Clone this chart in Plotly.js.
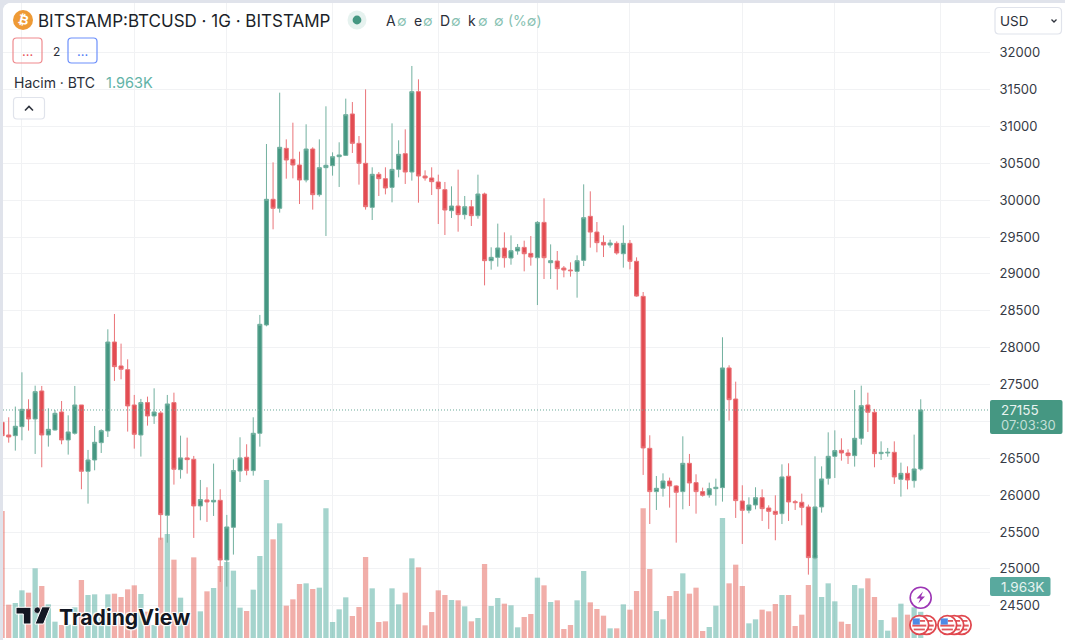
<!DOCTYPE html>
<html>
<head>
<meta charset="utf-8">
<script src="https://cdn.plot.ly/plotly-3.0.1.min.js"></script>
<style>
  html, body { margin: 0; padding: 0; background: #e0e3eb; overflow: hidden; }
  #chart { position: absolute; left: 3px; top: 3px; width: 1062px; height: 637px; background: #fff; border-top-left-radius: 8px; overflow: hidden; }
</style>
</head>
<body>
<div id="chart"></div>
<script>
// daily candles, oldest first
var opens = [26988,26816,26807,26929,27164,27033,27413,26816,26884,27128,26749,26839,27223,26324,26477,26712,26871,28077,27752,27702,
  27223,26816,27255,27074,27115,25727,27255,26346,26505,26486,25854,25935,25908,25930,25121,25564,26328,26514,26333,26839,
  28308,30012,29890,30703,30554,30477,30274,30694,30075,30441,30468,30590,30608,31169,30771,30500,29903,30351,30292,30174,
  30418,30631,30382,31472,30328,30301,30247,30143,29858,29921,29804,29912,29790,30084,29180,29225,29351,29216,29311,29360,
  29279,29220,29699,29152,29175,29080,29053,29035,29184,29781,29568,29428,29392,29415,29274,29415,29171,28696,26635,26048,
  26093,26192,26125,26048,26432,26170,26048,26003,26088,26102,27725,27304,25921,25795,25867,25966,25826,25781,25749,26256,
  25912,25903,25840,25148,25840,26229,26527,26608,26572,26536,26771,27223,27124,26563,26572,26581,26215,26296,26197,26355];
var highs = [27020,27056,27201,27666,27300,27485,27481,27178,27155,27277,27083,27481,27223,26613,26938,26893,28249,28457,28055,27842,
  27359,27305,27336,27449,27142,27359,27390,26807,26780,26532,26206,26107,26428,26080,25732,26486,26785,26690,27056,28444,
  30762,30513,31458,30825,31051,30658,31029,30717,30825,31273,30649,30785,31377,31331,30870,31503,30446,30382,30446,31042,
  30812,30961,31820,31639,30405,30446,30346,30247,30188,30414,30057,30003,30346,30102,29361,29682,29564,29523,29406,29451,
  29514,29717,30025,29401,29311,29107,29157,29252,30215,30120,29704,29523,29464,29442,29659,29460,29225,28755,26812,26260,
  26296,26238,26134,26798,26559,26283,26102,26170,26224,28141,27761,27539,26134,25971,26107,26079,25862,25998,26418,26432,
  25935,26021,25872,26527,26391,26852,26879,26771,26622,27426,27485,27390,27169,26730,26640,26730,26441,26391,26821,27300];
var lows = [26794,26712,26604,26744,26875,26559,26378,26658,26875,26690,26550,26821,26080,25885,26337,26572,26789,27549,27571,26862,
  26631,26523,26943,26966,25393,25356,26143,26224,26292,25420,25659,25637,25718,24823,24760,25194,26179,26269,26265,26658,
  28290,29605,29831,30292,30296,29948,30242,29872,30048,29514,30333,30179,30599,30640,30211,29872,29731,30057,30079,29971,
  30310,30220,30265,29966,30265,30070,29677,29528,29759,29573,29740,29650,29749,28845,29058,29099,29085,29125,29261,29035,
  29112,28578,28931,28931,28786,28954,28963,28678,29107,29356,29293,29229,29356,29261,29085,29062,28691,26274,25609,25799,
  25980,25831,25356,25808,25853,25749,25980,25966,25858,25912,27011,25691,25338,25754,25808,25650,25542,25388,25609,25650,
  25799,25591,24922,25130,25763,26143,26233,26468,26423,26387,26685,26857,26378,26477,26522,26152,25980,26079,26102,26333];
var closes = [26807,26789,26934,27164,27033,27404,26816,26893,27110,26749,26857,27223,26324,26477,26717,26875,28077,27743,27707,27210,
  26825,27255,27074,27128,25736,27237,26351,26505,26482,25854,25940,25908,25930,25121,25569,26333,26505,26337,26839,28317,
  30012,29890,30717,30545,30477,30274,30694,30075,30441,30473,30590,30613,31160,30771,30500,29912,30351,30292,30165,30418,
  30622,30382,31472,30328,30301,30251,30156,29867,29921,29804,29912,29790,30084,29180,29225,29352,29220,29315,29360,29274,
  29229,29699,29220,29180,29071,29053,29044,29180,29763,29568,29424,29392,29419,29284,29415,29171,28700,26640,26048,26093,
  26192,26125,26039,26432,26165,26048,25998,26088,26107,27725,27295,25926,25795,25867,25966,25817,25781,25740,26247,25908,
  25899,25835,25153,25840,26220,26527,26604,26572,26536,26771,27214,27124,26563,26581,26581,26247,26296,26206,26355,27155];
var volumes = [9525,2500,2625,3575,3400,5225,3900,2525,1225,975,1000,2300,4350,3225,3275,1850,3275,3325,3075,3650,
  3950,3300,1975,975,7525,7800,5875,3025,1500,6050,2000,3500,3750,5400,5700,5050,2275,2025,3625,6150,
  11850,7400,8600,2425,2900,4050,4100,3675,3775,9725,1200,2150,3050,1650,2325,6075,3725,1200,1250,3725,
  2525,3400,5975,5300,950,1950,3575,3225,2850,2825,2375,1250,1500,5550,2400,3000,2575,2450,800,1575,
  1800,4525,3950,2700,2825,675,975,2825,5025,2675,2175,1675,725,725,2525,2125,3525,9725,5175,2025,
  1400,3150,3525,4850,3325,3775,525,825,2425,9000,4100,5500,3900,1100,1400,2125,2000,2550,3225,3225,
  900,1750,3975,6225,3075,4100,2750,1225,1050,3975,3725,4475,3075,1350,550,1550,2575,1750,2300,1963];
var priceTicks = [24500,25000,25500,26000,26500,27000,27500,28000,28500,29000,29500,30000,30500,31000,31500,32000];
var priceTickText = ['24500','25000','25500','26000','26500','','27500','28000','28500','29000','29500','30000','30500','31000','31500','32000'];
var dateGrid = [3,20,34,50,66,81,95,112,126,142];
var lastPrice = 27155;

var UP = '#459782', DOWN = '#e24c52';
var UP_WICK = '#72b09f', DOWN_WICK = '#ea7479';
var W = 1062, H = 637;

var days = opens.map(function(o, i) { return i; });
var volColors = opens.map(function(o, i) {
  return closes[i] >= o ? 'rgba(76,170,155,0.5)' : 'rgba(225,85,75,0.48)';
});

// page pixels -> paper fractions
function px(x) { return (x - 3) / W; }
function py(y) { return 1 - (y - 3) / H; }

function circle(cx, cy, r, fill, line, lw) {
  return {type: 'circle', xref: 'paper', yref: 'paper', x0: px(cx - r), x1: px(cx + r), y0: py(cy + r), y1: py(cy - r),
    fillcolor: fill, line: {color: line || fill, width: lw === undefined ? 0 : lw}};
}

function rect(x0, y0, x1, y1, fill) {
  return {type: 'rect', xref: 'paper', yref: 'paper', x0: px(x0), x1: px(x1), y0: py(y1), y1: py(y0),
    fillcolor: fill, line: {width: 0}};
}

function poly(points, fill, line, lw) {
  var d = points.map(function(p, i) { return (i ? 'L' : 'M') + px(p[0]) + ',' + py(p[1]); }).join(' ');
  if (fill) d += ' Z';
  return {type: 'path', xref: 'paper', yref: 'paper', path: d, fillcolor: fill || 'rgba(0,0,0,0)',
    line: {color: line || fill, width: lw === undefined ? 0 : lw}};
}

function roundBox(x0, y0, x1, y1, r, fill, line, lw) {
  var d = 'M' + px(x0 + r) + ',' + py(y0) + ' L' + px(x1 - r) + ',' + py(y0) +
    ' Q' + px(x1) + ',' + py(y0) + ' ' + px(x1) + ',' + py(y0 + r) +
    ' L' + px(x1) + ',' + py(y1 - r) +
    ' Q' + px(x1) + ',' + py(y1) + ' ' + px(x1 - r) + ',' + py(y1) +
    ' L' + px(x0 + r) + ',' + py(y1) +
    ' Q' + px(x0) + ',' + py(y1) + ' ' + px(x0) + ',' + py(y1 - r) +
    ' L' + px(x0) + ',' + py(y0 + r) +
    ' Q' + px(x0) + ',' + py(y0) + ' ' + px(x0 + r) + ',' + py(y0) + ' Z';
  return {type: 'path', xref: 'paper', yref: 'paper', path: d, fillcolor: fill,
    line: {color: line || fill, width: lw === undefined ? 0 : lw}};
}

function flag(cx, cy) {
  return [
    circle(cx, cy, 9.4, '#ffffff', '#e0474e', 1.8),
    rect(cx - 7, cy - 0.4, cx + 7, cy + 1.6, '#e0575c'),
    rect(cx - 5.6, cy + 3.6, cx + 5.6, cy + 5.4, '#e0575c'),
    rect(cx + 0.5, cy - 5, cx + 5.8, cy - 3.2, '#e0575c'),
    rect(cx - 6.6, cy - 6.6, cx + 0.5, cy - 0.4, '#4f8ae6')
  ];
}

function label(x, y, text, size, color, extra) {
  var a = {xref: 'paper', yref: 'paper', x: px(x), y: py(y), xanchor: 'left', yanchor: 'middle', text: text,
    showarrow: false, borderpad: 0, font: {family: 'Inter, sans-serif', size: size, color: color}};
  for (var k in extra) a[k] = extra[k];
  return a;
}

var teal = '#86bfb1', legendInk = '#2a2e39';

var shapes = [
  // last price line
  {type: 'line', xref: 'paper', yref: 'y2', x0: 0, x1: px(990), y0: lastPrice, y1: lastPrice,
    line: {color: '#6aa898', width: 1, dash: '1px,2px'}},
  roundBox(990, 400, 1062.5, 434, 2, UP),
  roundBox(990, 577, 1050.5, 596, 2, '#59a99e'),
  // legend chrome
  circle(23, 20, 10, '#ee9a35'),
  circle(357, 20, 9.5, '#e6f2ef'),
  circle(357, 20, 4.4, UP),
  roundBox(13, 38, 42, 63, 3.5, 'rgba(0,0,0,0)', '#ef8a8e', 1.2),
  roundBox(68, 38, 97, 63, 3.5, 'rgba(0,0,0,0)', '#6c8ffb', 1.2),
  roundBox(13.5, 97.5, 44.5, 119, 3.5, '#ffffff', '#e0e3eb', 1.2),
  poly([[25, 110.5], [29, 106.5], [33, 110.5]], null, '#30343e', 1.6),
  roundBox(995, 7.5, 1061.5, 34, 4, '#ffffff', '#e0e3eb', 1.2),
  poly([[1051.5, 19.5], [1054, 22], [1056.5, 19.5]], null, '#30343e', 1.3),
  // tradingview mark
  poly([[16, 607.3], [31, 607.3], [31, 624], [23.3, 624], [23.3, 614], [16, 614]], '#131722', '#ffffff', 1),
  circle(37.3, 610.2, 3.2, '#131722', '#ffffff', 0.6),
  poly([[50.5, 606.8], [42, 606.8], [35, 624], [43.5, 624]], '#131722', '#ffffff', 1),
  // event icons
  circle(920.7, 597.7, 10.5, '#ffffff', '#9c35b5', 1.6),
  poly([[923, 591.5], [916.5, 598.5], [920.3, 598.5], [918.3, 603.5], [925, 596.5], [921, 596.5]], '#9c35b5')
];
shapes = shapes.concat(flag(926.7, 625), flag(919.3, 625), flag(961.7, 625), flag(954.3, 625), flag(947.3, 625));

var annotations = [
  label(37, 20.5, 'BITSTAMP:BTCUSD · 1G · BITSTAMP', 17, '#1b1f29'),
  {xref: 'paper', yref: 'paper', x: px(23), y: py(20), xanchor: 'center', yanchor: 'middle', text: '₿', showarrow: false, textangle: 14,
    font: {family: 'DejaVu Sans, sans-serif', size: 13, color: '#ffffff', weight: 700}},
  label(385, 20.5, 'A', 14, legendInk),
  label(396, 20.5, '∅', 14, teal),
  label(412.5, 20.5, 'e', 14, legendInk),
  label(422, 20.5, '∅', 14, teal),
  label(438.5, 20.5, 'D', 14, legendInk),
  label(450, 20.5, '∅', 14, teal),
  label(467, 20.5, 'k', 14, legendInk),
  label(477, 20.5, '∅', 14, teal),
  label(493, 20.5, '∅', 14, teal),
  label(507, 20.5, '(%∅)', 14, teal),
  {xref: 'paper', yref: 'paper', x: px(27.5), y: py(51), xanchor: 'center', yanchor: 'middle', text: '...', showarrow: false,
    font: {family: 'Inter, sans-serif', size: 13, color: '#e8545a'}},
  label(51.5, 51, '2', 12, legendInk),
  {xref: 'paper', yref: 'paper', x: px(82.5), y: py(51), xanchor: 'center', yanchor: 'middle', text: '...', showarrow: false,
    font: {family: 'Inter, sans-serif', size: 13, color: '#4f7cf6'}},
  label(13, 82, 'Hacim · BTC', 14, legendInk),
  label(105, 82, '1.963K', 14.5, '#62b3a7'),
  label(999, 21, 'USD', 13.5, legendInk),
  label(58, 616.5, 'TradingView', 21.2, '#131722',
    {font: {family: 'Inter, sans-serif', size: 21.2, color: '#131722', weight: 700,
      shadow: '1px 1px 1px #fff, -1px 1px 1px #fff, 1px -1px 1px #fff, -1px -1px 1px #fff'}}),
  label(999.5, 410, '27155', 13.5, '#e8f3f0'),
  label(999.5, 425, '07:03:30', 13, '#c3dfd7'),
  label(999.5, 587, '1.963K', 13.5, '#e6f3f0')
];

var volumeTrace = {
  type: 'bar',
  x: days,
  y: volumes,
  xaxis: 'x',
  yaxis: 'y',
  width: 0.8,
  marker: {color: volColors, line: {width: 0}},
  hoverinfo: 'skip'
};

var candleTrace = {
  type: 'candlestick',
  x: days,
  open: opens,
  high: highs,
  low: lows,
  close: closes,
  xaxis: 'x',
  yaxis: 'y2',
  whiskerwidth: 0,
  increasing: {line: {color: UP_WICK, width: 1}, fillcolor: UP},
  decreasing: {line: {color: DOWN_WICK, width: 1}, fillcolor: DOWN},
  hoverinfo: 'skip'
};

var layout = {
  width: W,
  height: H,
  margin: {l: 0, r: 0, t: 0, b: 0},
  paper_bgcolor: '#ffffff',
  plot_bgcolor: '#ffffff',
  showlegend: false,
  bargap: 0.2,
  boxgap: 0.12,
  xaxis: {
    domain: [0, px(990)],
    range: [0.136, 149.48],
    type: 'linear',
    tickmode: 'array',
    tickvals: dateGrid,
    showticklabels: false,
    ticks: '',
    showgrid: true,
    gridcolor: '#f1f2f4',
    gridwidth: 1,
    zeroline: false,
    showline: false,
    rangeslider: {visible: false}
  },
  yaxis: {
    domain: [py(638), 1],
    range: [0, 47625],
    showgrid: false,
    zeroline: false,
    showticklabels: false,
    ticks: '',
    showline: false
  },
  yaxis2: {
    domain: [py(638), 1],
    range: [24063, 32674],
    overlaying: 'y',
    side: 'right',
    anchor: 'x',
    tickmode: 'array',
    tickvals: priceTicks,
    ticktext: priceTickText,
    ticks: 'outside',
    ticklen: 6,
    tickcolor: 'rgba(0,0,0,0)',
    tickfont: {family: 'Inter, sans-serif', size: 13, color: '#363a45'},
    showgrid: true,
    gridcolor: '#f1f2f4',
    gridwidth: 1,
    zeroline: false,
    showline: false
  },
  shapes: shapes,
  annotations: annotations
};

Plotly.newPlot('chart', [volumeTrace, candleTrace], layout, {displayModeBar: false, staticPlot: true});
</script>
</body>
</html>
